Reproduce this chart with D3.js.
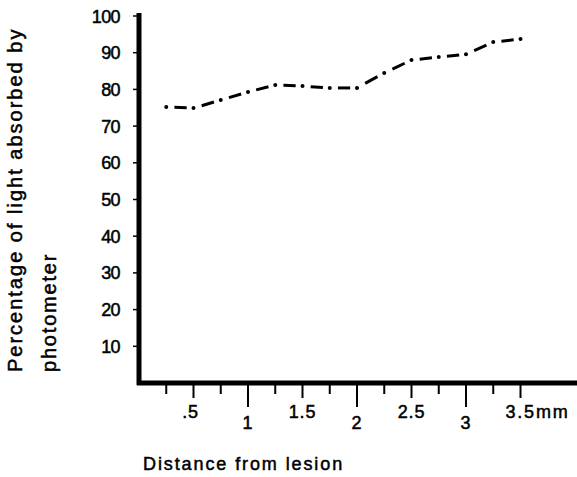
<!DOCTYPE html>
<html><head><meta charset="utf-8">
<script src="https://cdn.jsdelivr.net/npm/d3@7"></script>
<style>
body{margin:0;background:#fff;}
text{font-family:"Liberation Sans",Arial,Helvetica,sans-serif;fill:#000;stroke:#000;stroke-width:0.5px;}
</style></head>
<body><svg id="c" width="577" height="477"></svg>
<script>
const distances = [0.25,0.5,0.75,1.0,1.25,1.5,1.75,2.0,2.25,2.5,2.75,3.0,3.25,3.5];
const absorbed  = [75.2,74.9,77.1,79.3,81.2,80.9,80.4,80.4,84.5,88.0,88.8,89.6,92.9,93.7];
const yTicks = [10,20,30,40,50,60,70,80,90,100];
const xTicks = [0.25,0.5,0.75,1,1.25,1.5,1.75,2,2.25,2.5,2.75,3,3.25,3.5];
const xLabels = [{v:0.5,t:".5"},{v:1,t:"1"},{v:1.5,t:"1.5"},{v:2,t:"2"},{v:2.5,t:"2.5"},{v:3,t:"3"},{v:3.5,t:"3.5mm"}];
const yTitle1 = "Percentage of light absorbed by";
const yTitle2 = "photometer";
const xTitle = "Distance from lesion";

const svg = d3.select("#c");
const x = d3.scaleLinear().domain([0,1]).range([139,248]);
const y = d3.scaleLinear().domain([0,100]).range([383,16]);

// axes lines
svg.append("line").attr("x1",139).attr("x2",139).attr("y1",13).attr("y2",385)
  .attr("stroke","#000").attr("stroke-width",5);
svg.append("line").attr("x1",137).attr("x2",577).attr("y1",383).attr("y2",383)
  .attr("stroke","#000").attr("stroke-width",5);

// y ticks
svg.selectAll(".yt").data(yTicks).enter().append("line")
  .attr("x1",133).attr("x2",139).attr("y1",d=>y(d)).attr("y2",d=>y(d))
  .attr("stroke","#000").attr("stroke-width",1.5);
svg.selectAll(".yl").data(yTicks).enter().append("text")
  .attr("x",120).attr("y",d=>y(d)+6.5).attr("text-anchor","end")
  .attr("font-size",18).attr("letter-spacing",-0.6).text(d=>d);

// x ticks
svg.selectAll(".xt").data(xTicks).enter().append("line")
  .attr("x1",d=>x(d)).attr("x2",d=>x(d)).attr("y1",383)
  .attr("y2",d=> Number.isInteger(d)?407:(d%0.5===0?398:394))
  .attr("stroke","#000").attr("stroke-width",2);
svg.selectAll(".xl").data(xLabels).enter().append("text")
  .attr("x",d=>x(d.v)).attr("y",d=>Number.isInteger(d.v)?429:418)
  .attr("text-anchor",d=>d.t.endsWith("mm")?"start":"middle")
  .attr("dx",d=>d.t.endsWith("mm")?-15:(d.t===".5"?-3:0))
  .attr("font-size",18).attr("letter-spacing",d=>d.t.endsWith("mm")?1.8:0.8).text(d=>d.t);

// titles
svg.append("text").attr("transform","translate(22,372) rotate(-90)")
  .attr("font-size",20).attr("letter-spacing",2).text(yTitle1);
svg.append("text").attr("transform","translate(56,372) rotate(-90)")
  .attr("font-size",20).attr("letter-spacing",1.8).text(yTitle2);
svg.append("text").attr("x",143).attr("y",470).attr("font-size",18)
  .attr("letter-spacing",1.9).text(xTitle);

// dash-dot data line
const pts = distances.map((d,i)=>[x(d),y(absorbed[i])]);
const segs = d3.pairs(pts);
svg.selectAll(".seg").data(segs).enter().append("line")
  .attr("x1",d=>d[0][0]+(d[1][0]-d[0][0])*0.3)
  .attr("y1",d=>d[0][1]+(d[1][1]-d[0][1])*0.3)
  .attr("x2",d=>d[0][0]+(d[1][0]-d[0][0])*0.75)
  .attr("y2",d=>d[0][1]+(d[1][1]-d[0][1])*0.75)
  .attr("stroke","#000").attr("stroke-width",3);
svg.selectAll(".pt").data(pts).enter().append("circle")
  .attr("cx",d=>d[0]).attr("cy",d=>d[1]).attr("r",2).attr("fill","#000");
</script></body></html>
